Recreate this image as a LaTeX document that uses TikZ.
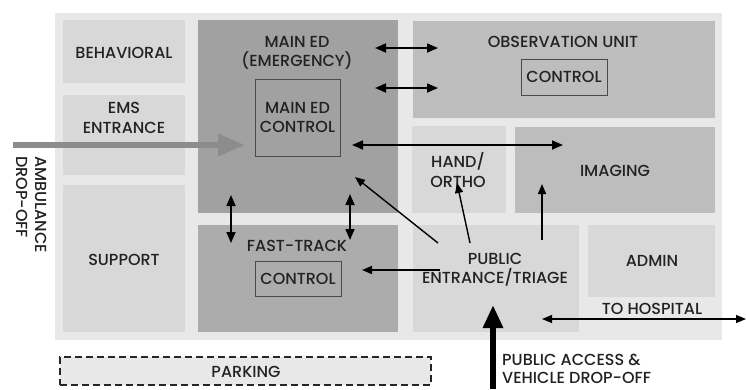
\documentclass[tikz,border=0pt]{standalone}
\usepackage{fontspec}
\setmainfont{Poppins}[UprightFont={* Medium}]
\usetikzlibrary{arrows.meta}
\definecolor{sitebg}{HTML}{E8E8E8}
\definecolor{roomlight}{HTML}{D8D8D8}
\definecolor{roommid}{HTML}{BDBDBD}
\definecolor{roomdark}{HTML}{A1A1A1}
\definecolor{roomdarkb}{HTML}{ACACAC}
\definecolor{ambgray}{HTML}{8C8C8C}
\definecolor{ctrlline}{HTML}{4A4A4A}
\definecolor{txt}{HTML}{222222}
\begin{document}
\begin{tikzpicture}[x=1pt,y=-1pt,
  room/.style={anchor=north west, inner sep=0pt, outer sep=0pt, draw=none},
  ctrl/.style={anchor=north west, inner sep=0pt, outer sep=0pt, draw=ctrlline, line width=0.9pt},
  lbl/.style={inner sep=0pt, align=center, text=txt, font=\fontsize{16}{19.5}\selectfont},
  tip/.style={Triangle[length=11pt,width=9pt]},
  dbl/.style={{Triangle[length=11pt,width=9pt]}-{Triangle[length=11pt,width=9pt]}, line width=1.7pt},
  sgl/.style={-{Triangle[length=10pt,width=8pt]}, line width=1.4pt}]
\useasboundingbox (0,0) rectangle (746,389);
\fill[white] (0,0) rectangle (746,389);
% site
\node[room, fill=sitebg, minimum width=667pt, minimum height=327pt] (site) at (55,13) {};
% rooms
\node[room, fill=roomlight, minimum width=122pt, minimum height=63pt] (behav) at (63,20) {};
\node[room, fill=roomlight, minimum width=122pt, minimum height=80pt] (ems) at (63,95) {};
\node[room, fill=roomlight, minimum width=122pt, minimum height=147pt] (support) at (63,185) {};
\node[room, fill=roomdark, minimum width=200pt, minimum height=193pt] (mained) at (198,20) {};
\node[room, fill=roomdarkb, minimum width=200pt, minimum height=107pt] (fast) at (198,225) {};
\node[room, fill=roommid, minimum width=302pt, minimum height=97pt] (obs) at (413,21) {};
\node[room, fill=roomlight, minimum width=94pt, minimum height=87pt] (hand) at (412,126) {};
\node[room, fill=roommid, minimum width=200pt, minimum height=86pt] (imaging) at (515,127) {};
\node[room, fill=roomlight, minimum width=166pt, minimum height=107pt] (public) at (413,225) {};
\node[room, fill=roomlight, minimum width=127pt, minimum height=72pt] (admin) at (588,225) {};
\node[room, fill=sitebg, draw=black!85, dashed, dash pattern=on 7pt off 4pt, line width=1.5pt, minimum width=371pt, minimum height=28pt] (parking) at (60,357) {};
% control boxes
\node[ctrl, minimum width=85pt, minimum height=77pt] (edctrl) at (255,79) {};
\node[ctrl, minimum width=86pt, minimum height=36pt] (obsctrl) at (521,59) {};
\node[ctrl, minimum width=86pt, minimum height=35pt] (ftctrl) at (255,261) {};
% labels
\node[lbl] (tbehav) at (124,53) {BEHAVIORAL};
\node[lbl] (tems) at (124,118) {EMS\\ENTRANCE};
\node[lbl] (tsupport) at (124,260) {SUPPORT};
\node[lbl] (tmained) at (297,53) {MAIN ED\\(EMERGENCY)};
\node[lbl] (tedctrl) at (edctrl.center) {MAIN ED\\CONTROL};
\node[lbl] (tobs) at (563,42) {OBSERVATION UNIT};
\node[lbl] (tobsctrl) at (obsctrl.center) {CONTROL};
\node[lbl] (thand) at (458,170) {HAND/\\ORTHO};
\node[lbl] (timaging) at (615,171) {IMAGING};
\node[lbl] (tfast) at (297,246) {FAST-TRACK};
\node[lbl] (tftctrl) at (ftctrl.center) {CONTROL};
\node[lbl] (tpublic) at (495,270) {PUBLIC\\ENTRANCE/TRIAGE};
\node[lbl] (tadmin) at (652,261) {ADMIN};
\node[lbl] (thosp) at (652,309) {TO HOSPITAL};
\node[lbl] (tparking) at (246,372) {PARKING};
\node[lbl, align=left, anchor=west, font=\fontsize{16}{18.5}\selectfont] (taccess) at (502,369) {PUBLIC ACCESS \&\\VEHICLE DROP-OFF};
\node[lbl, align=left, anchor=north west, rotate=-90] (tamb) at (47,156) {AMBULANCE\\DROP-OFF};
% arrow end points
\coordinate (a1l) at (375,48);  \coordinate (a1r) at (438,48);
\coordinate (a2l) at (375,88);  \coordinate (a2r) at (438,88);
\coordinate (a3l) at (352,145); \coordinate (a3r) at (563,145);
\coordinate (a4t) at (231,195); \coordinate (a4b) at (231,243);
\coordinate (a5t) at (350,194); \coordinate (a5b) at (350,240);
\coordinate (a6s) at (438,243); \coordinate (a6e) at (355,177);
\coordinate (a7s) at (470,243); \coordinate (a7e) at (457,183);
\coordinate (a8s) at (542,240); \coordinate (a8e) at (542,184);
\coordinate (a9s) at (440,270); \coordinate (a9e) at (362,270);
\coordinate (hospl) at (542,319); \coordinate (hospr) at (746,319);
\coordinate (accs) at (493,389); \coordinate (acce) at (493,305);
\coordinate (ambs) at (13,145); \coordinate (ambe) at (245,145);
% arrows
\draw[dbl] (a1l) -- (a1r);
\draw[dbl] (a2l) -- (a2r);
\draw[dbl] (a3l) -- (a3r);
\draw[dbl] (a4t) -- (a4b);
\draw[dbl] (a5t) -- (a5b);
\draw[sgl] (a6s) -- (a6e);
\draw[sgl] (a7s) -- (a7e);
\draw[sgl] (a8s) -- (a8e);
\draw[sgl] (a9s) -- (a9e);
\draw[{Triangle[length=10pt,width=8pt]}-{Triangle[length=10pt,width=8pt]}, line width=1.2pt] (hospl) -- (hospr);
\draw[-{Triangle[length=23pt,width=19pt]}, line width=6pt] (accs) -- (acce);
\draw[-{Triangle[length=27pt,width=21pt]}, line width=6pt, draw=ambgray, fill=ambgray] (ambs) -- (ambe);
\end{tikzpicture}
\end{document}
